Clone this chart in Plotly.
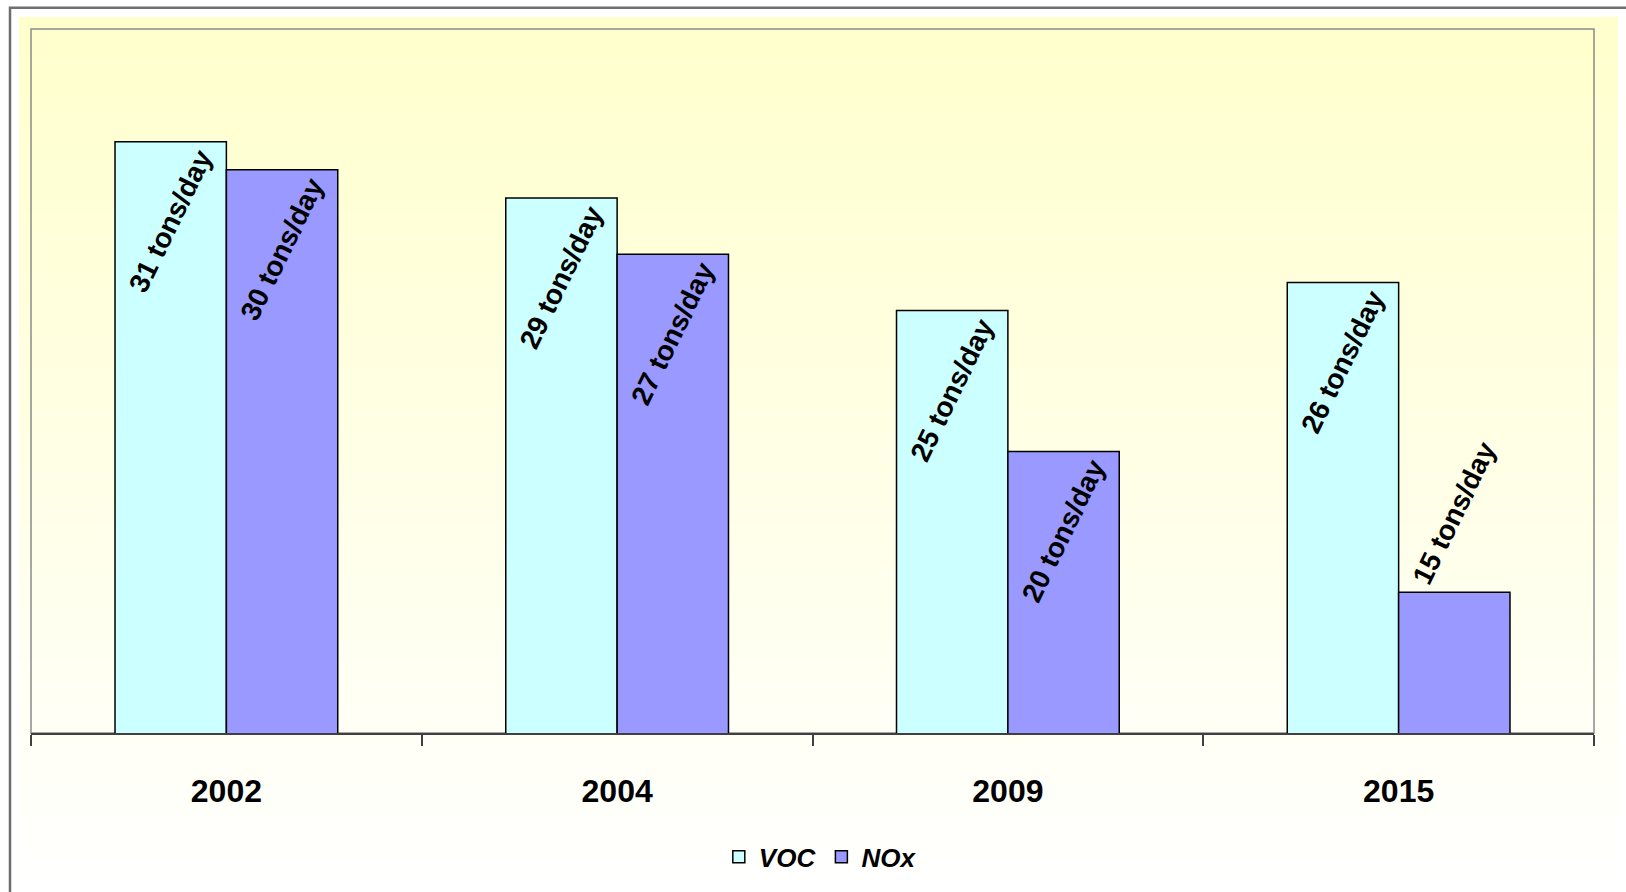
import plotly.graph_objects as go

years = ["2002", "2004", "2009", "2015"]
voc = [31, 29, 25, 26]
nox = [30, 27, 20, 15]
voc_labels = [f"{v} tons/day" for v in voc]
nox_labels = [f"{v} tons/day" for v in nox]
nox_text_pos = ["inside", "inside", "inside", "outside"]

W, H = 1626, 892
L, R, T, B = 31, 1594, 29, 739  # plot area in pixels


def px_x(p):
    return (p - L) / (R - L)


def px_y(p):
    return (B - p) / (B - T)


label_font = dict(family="Liberation Sans, Arial, sans-serif", size=28, color="black", weight="bold")

fig = go.Figure()
fig.add_trace(go.Bar(
    name="VOC", x=years, y=voc, text=voc_labels,
    textposition="inside", insidetextanchor="end", textangle=-64,
    constraintext="none", cliponaxis=False,
    textfont=label_font, insidetextfont=label_font, outsidetextfont=label_font,
    marker=dict(color="#CCFFFF", line=dict(color="black", width=1.5)),
))
fig.add_trace(go.Bar(
    name="NOx", x=years, y=nox, text=nox_labels,
    textposition=nox_text_pos, insidetextanchor="end", textangle=-64,
    constraintext="none", cliponaxis=False,
    textfont=label_font, insidetextfont=label_font, outsidetextfont=label_font,
    marker=dict(color="#9999FF", line=dict(color="black", width=1.5)),
))

shapes = []
# gradient background (light yellow at top to white at bottom)
g_top, g_bot = 17, 900
n = 90
for i in range(n):
    y0p = g_top + (g_bot - g_top) * i / n
    y1p = g_top + (g_bot - g_top) * (i + 1) / n
    t = (i + 0.5) / n
    b = int(round(204 + (255 - 204) * t))
    col = f"rgb(255,255,{b})"
    shapes.append(dict(type="rect", xref="paper", yref="paper",
                       x0=px_x(19), x1=px_x(1618), y0=px_y(y1p) - 0.001, y1=px_y(y0p),
                       fillcolor=col, line=dict(width=0), layer="below"))
# plot area border
shapes.append(dict(type="rect", xref="paper", yref="paper", x0=0, x1=1, y0=0, y1=1,
                   line=dict(color="#8a8a8a", width=1.5), layer="below"))
# outer frame
shapes.append(dict(type="rect", xref="paper", yref="paper",
                   x0=px_x(10), x1=px_x(1650), y0=px_y(920), y1=px_y(7.5),
                   line=dict(color="#6e6e6e", width=2.5), layer="below"))

fig.update_layout(
    width=W, height=H,
    margin=dict(l=L, r=W - R, t=T, b=H - B, pad=0),
    paper_bgcolor="white", plot_bgcolor="rgba(0,0,0,0)",
    barmode="group", bargap=0.43, bargroupgap=0,
    showlegend=True,
    legend=dict(orientation="h", x=0.505, xanchor="center", y=px_y(864), yanchor="middle",
                font=dict(family="Liberation Sans, Arial, sans-serif",
                          size=26, color="black", weight="bold", style="italic"),
                bgcolor="rgba(0,0,0,0)", itemclick=False),
    shapes=shapes,
    xaxis=dict(type="category", categoryorder="array", categoryarray=years,
               tickson="boundaries", ticks="outside", ticklen=11, tickwidth=1.5, tickcolor="#404040",
               showline=True, linecolor="#404040", linewidth=1.5, showgrid=False, zeroline=False,
               ticklabelstandoff=29,
               tickfont=dict(family="Liberation Sans, Arial, sans-serif",
                             size=32, color="black", weight="bold")),
    yaxis=dict(range=[10, 35], visible=False, fixedrange=True),
)

fig.write_html("out.html", config={"displayModeBar": False},
               post_script="document.body.style.margin='0';document.body.style.overflow='hidden';")
